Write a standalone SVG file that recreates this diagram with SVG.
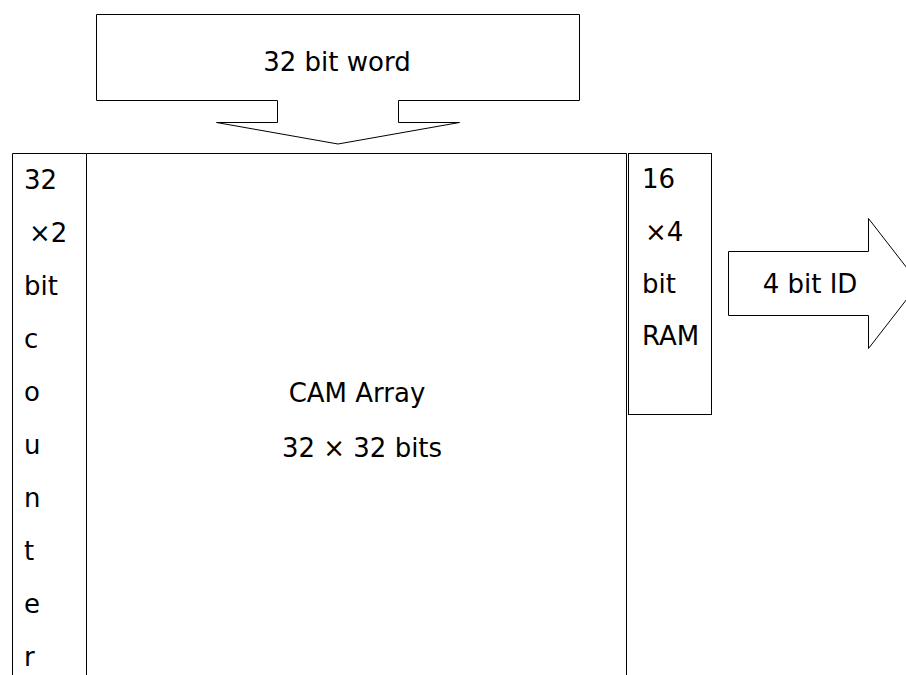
<svg xmlns="http://www.w3.org/2000/svg" width="906" height="675" viewBox="0 0 906 675">
  <style>
    .shape { fill: #fff; stroke: #000; stroke-width: 1; }
    .line { fill: none; stroke: #000; stroke-width: 1; }
    text { font-family: "DejaVu Sans", Verdana, sans-serif; font-size: 26px; fill: #000; }
    .mid { text-anchor: middle; }
  </style>
  <rect width="906" height="675" fill="#fff"/>

  <!-- input word: block arrow pointing down -->
  <g id="word-in">
    <path class="shape" d="M96.5,14.5 H579.5 V100.5 H398.5 V122.5 H459.5 L338,144 L216.5,122.5 H277.5 V100.5 H96.5 Z"/>
    <text class="mid" x="337" y="71">32 bit word</text>
  </g>

  <!-- counter column -->
  <g id="counter">
    <path class="line" d="M12.5,675 V153.5 H86.5 V675"/>
    <text x="24" y="189">32</text>
    <text x="29" y="242">×2</text>
    <text x="24" y="295">bit</text>
    <text x="24" y="348">c</text>
    <text x="24" y="401">o</text>
    <text x="24" y="454">u</text>
    <text x="24" y="507">n</text>
    <text x="24" y="560">t</text>
    <text x="24" y="613">e</text>
    <text x="24" y="666">r</text>
  </g>

  <!-- CAM array -->
  <g id="cam">
    <path class="line" d="M86.5,153.5 H626.5 V675"/>
    <text class="mid" x="357" y="402">CAM Array</text>
    <text class="mid" x="362" y="457">32 × 32 bits</text>
  </g>

  <!-- ID RAM -->
  <g id="ram">
    <rect class="shape" x="628.5" y="153.5" width="83" height="261"/>
    <text x="642" y="188">16</text>
    <text x="645" y="241">×4</text>
    <text x="642" y="293">bit</text>
    <text x="642" y="345">RAM</text>
  </g>

  <!-- output ID: block arrow pointing right -->
  <g id="id-out">
    <path class="shape" d="M728.5,251.5 H868.5 V218.5 L919,283.5 L868.5,348.5 V315.5 H728.5 Z"/>
    <text class="mid" x="810" y="293">4 bit ID</text>
  </g>
</svg>
